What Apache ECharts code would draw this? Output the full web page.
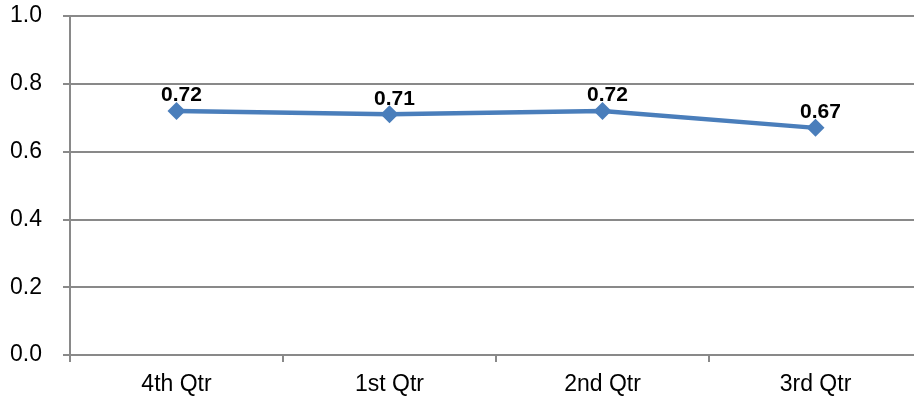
<!DOCTYPE html>
<html>
<head>
<meta charset="utf-8">
<script src="https://cdn.jsdelivr.net/npm/echarts@6/dist/echarts.min.js"></script>
<style>
  html, body { margin: 0; padding: 0; background: #fff; }
  #chart { width: 914px; height: 398px; }
</style>
</head>
<body>
<div id="chart"></div>
<script>
const categories = ["4th Qtr", "1st Qtr", "2nd Qtr", "3rd Qtr"];
const values = [0.72, 0.71, 0.72, 0.67];

const chart = echarts.init(document.getElementById("chart"), null, { renderer: "canvas" });

chart.setOption({
  animation: false,
  grid: {
    left: 70,
    top: 16,
    width: 852,
    height: 339,
    outerBoundsMode: "none",
    containLabel: false,
  },
  xAxis: {
    type: "category",
    data: categories,
    boundaryGap: true,
    axisLine: { lineStyle: { color: "#898989", width: 2 } },
    axisTick: { show: true, length: 7, interval: 0, lineStyle: { color: "#898989", width: 2 } },
    axisLabel: { color: "#000", fontFamily: "Liberation Sans", fontSize: 23, margin: 18 },
  },
  yAxis: {
    type: "value",
    min: 0,
    max: 1,
    interval: 0.2,
    axisLine: { show: true, lineStyle: { color: "#898989", width: 2 } },
    axisTick: { show: true, length: 7, lineStyle: { color: "#898989", width: 2 } },
    axisLabel: {
      color: "#000",
      fontFamily: "Liberation Sans",
      fontSize: 23,
      margin: 28,
      formatter: v => v.toFixed(1),
    },
    splitLine: { lineStyle: { color: "#898989", width: 2 } },
  },
  series: [
    {
      type: "line",
      data: values,
      symbol: "diamond",
      symbolSize: 18,
      lineStyle: { color: "#4A7EBB", width: 4.5 },
      itemStyle: { color: "#4A7EBB" },
      label: {
        show: true,
        position: "top",
        distance: -4,
        offset: [5, 0],
        color: "#000",
        fontFamily: "Liberation Sans",
        fontWeight: "bold",
        fontSize: 21,
        formatter: p => p.value.toFixed(2),
      },
    },
  ],
});
</script>
</body>
</html>
